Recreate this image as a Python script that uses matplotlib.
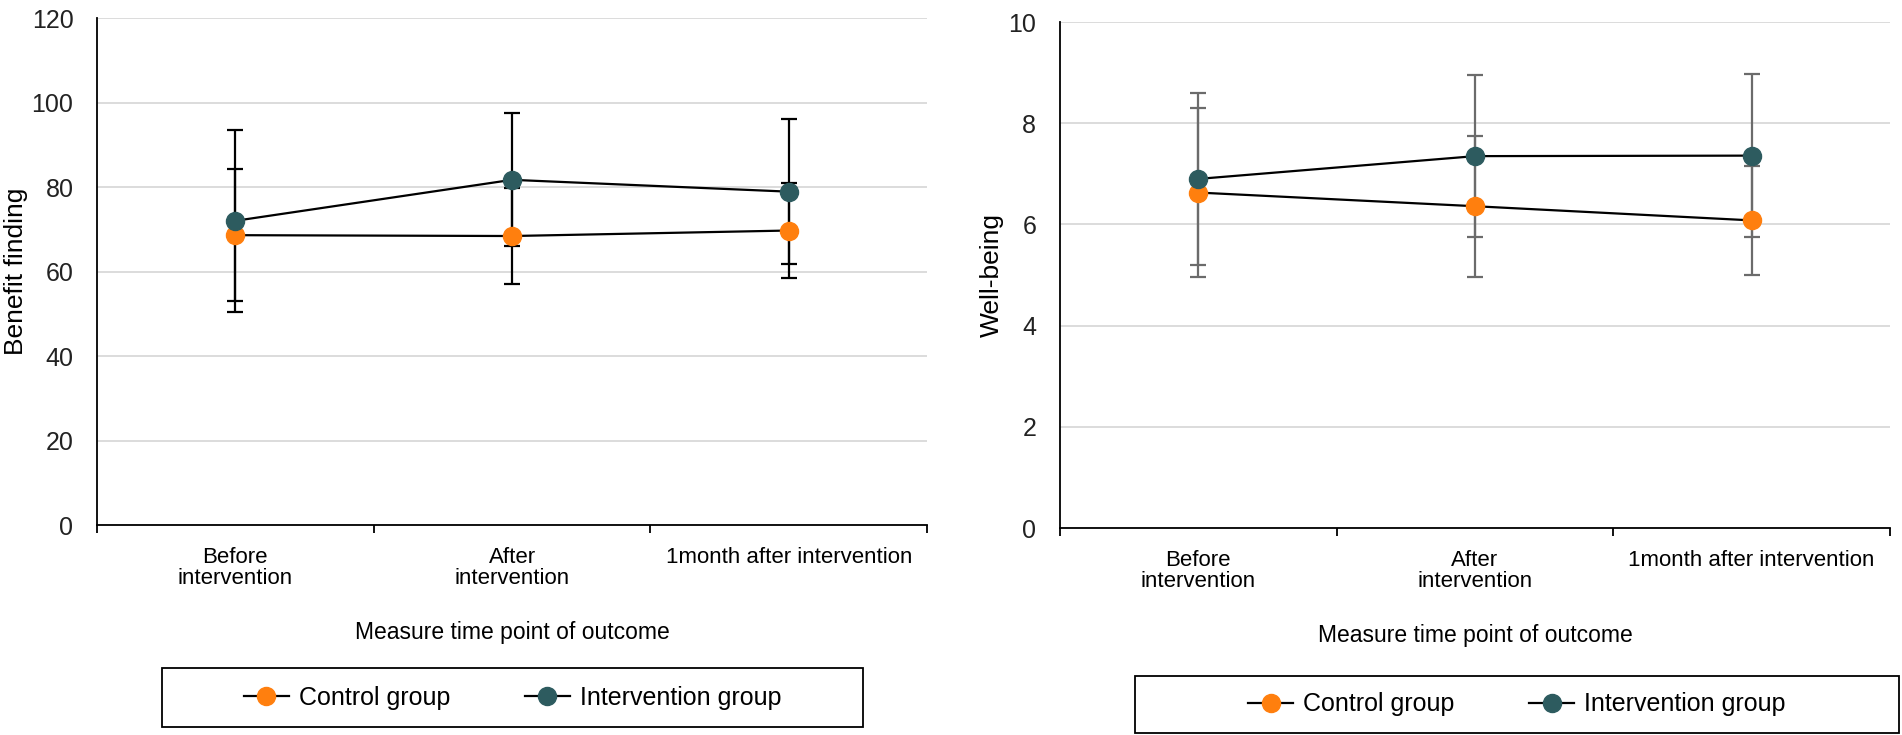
import matplotlib
matplotlib.use('Agg')
import matplotlib.pyplot as plt
import numpy as np
from matplotlib.legend_handler import HandlerLine2D
from matplotlib.lines import Line2D
from matplotlib.patches import Rectangle

plt.rcParams['font.family'] = ['Liberation Sans', 'DejaVu Sans']

# data
time_points = ['Before\nintervention', 'After\nintervention', '1month after intervention']

bf_control = [68.6, 68.4, 69.7]
bf_control_sd = [15.6, 11.4, 11.3]
bf_interv = [72.0, 81.7, 78.9]
bf_interv_sd = [21.6, 15.7, 17.1]

wb_control = [6.63, 6.36, 6.08]
wb_control_sd = [1.67, 1.39, 1.08]
wb_interv = [6.90, 7.35, 7.36]
wb_interv_sd = [1.70, 1.60, 1.61]

ORANGE = '#ff7f0e'
TEAL = '#2d5b5f'


class RightMarker(HandlerLine2D):
    # line with the marker at its right end, like the reference legend
    def get_xdata(self, legend, xdescent, ydescent, width, height, fontsize):
        return [-xdescent, -xdescent + width], [-xdescent + width]


fig = plt.figure(figsize=(19.02, 7.35), dpi=100)
ax1 = fig.add_axes([0.051, 0.2857, 0.4364, 0.6898])
ax2 = fig.add_axes([0.5573, 0.2816, 0.4364, 0.6884])


def draw(ax, ctl, ctl_sd, itv, itv_sd, ecolor, ymax, ystep, ylabel, ylab_x):
    x = np.arange(len(time_points))
    ax.errorbar(x, itv, yerr=itv_sd, fmt='none', ecolor=ecolor, elinewidth=1.6,
                capsize=6, capthick=1.6, zorder=2)
    ax.errorbar(x, ctl, yerr=ctl_sd, fmt='none', ecolor=ecolor, elinewidth=1.6,
                capsize=6, capthick=1.6, zorder=2)
    ax.plot(x, ctl, color='black', lw=1.6, marker='o', ms=13,
            mfc=ORANGE, mec=ORANGE, zorder=3)
    ax.plot(x, itv, color='black', lw=1.6, marker='o', ms=13,
            mfc=TEAL, mec=TEAL, zorder=4)
    ax.set_xlim(-0.5, len(time_points) - 0.5)
    ax.set_ylim(0, ymax)
    ax.set_yticks(np.arange(0, ymax + ystep / 2, ystep))
    ax.grid(axis='y', color='#d9d9d9', lw=1.3)
    ax.set_axisbelow(True)
    for s in ['top', 'right']:
        ax.spines[s].set_visible(False)
    ax.spines['left'].set_linewidth(1.3)
    ax.spines['bottom'].set_linewidth(1.3)
    ax.set_xticks(x)
    ax.set_xticklabels(time_points, linespacing=1.0)
    ax.set_xticks(np.arange(-0.5, len(time_points)), minor=True)
    ax.tick_params(axis='x', which='major', length=0, pad=16, labelsize=16)
    ax.tick_params(axis='x', which='minor', length=6, width=1.3, direction='out')
    ax.tick_params(axis='y', length=0, pad=17, labelsize=18, labelcolor='#222222')
    ax.set_ylabel(ylabel, fontsize=19)
    ax.yaxis.set_label_coords(ylab_x, 0.5)
    ax.set_xlabel('Measure time point of outcome', fontsize=16.5)
    ax.xaxis.set_label_coords(0.5, -0.19)


draw(ax1, bf_control, bf_control_sd, bf_interv, bf_interv_sd, 'black', 120, 20,
     'Benefit finding', -0.083)
draw(ax2, wb_control, wb_control_sd, wb_interv, wb_interv_sd, '#6b6b6b', 10, 2,
     'Well-being', -0.067)

handles = [Line2D([], [], color='black', lw=1.6, marker='o', ms=13, mfc=ORANGE, mec=ORANGE),
           Line2D([], [], color='black', lw=1.6, marker='o', ms=13, mfc=TEAL, mec=TEAL)]
labels = ['Control group', 'Intervention group']

for (bx, by, bw, bh) in [(0.0852, 0.011, 0.3685, 0.080), (0.5967, 0.003, 0.4018, 0.077)]:
    fig.patches.append(Rectangle((bx, by), bw, bh, transform=fig.transFigure,
                                 fill=False, ec='black', lw=1.3))
    fig.legend(handles, labels, loc='center', bbox_to_anchor=(bx + bw / 2, by + bh / 2),
               ncol=2, frameon=False, fontsize=18, handlelength=1.8, handletextpad=0.4,
               columnspacing=3.0, handler_map={Line2D: RightMarker()})

fig.savefig('out.png', dpi=100)
